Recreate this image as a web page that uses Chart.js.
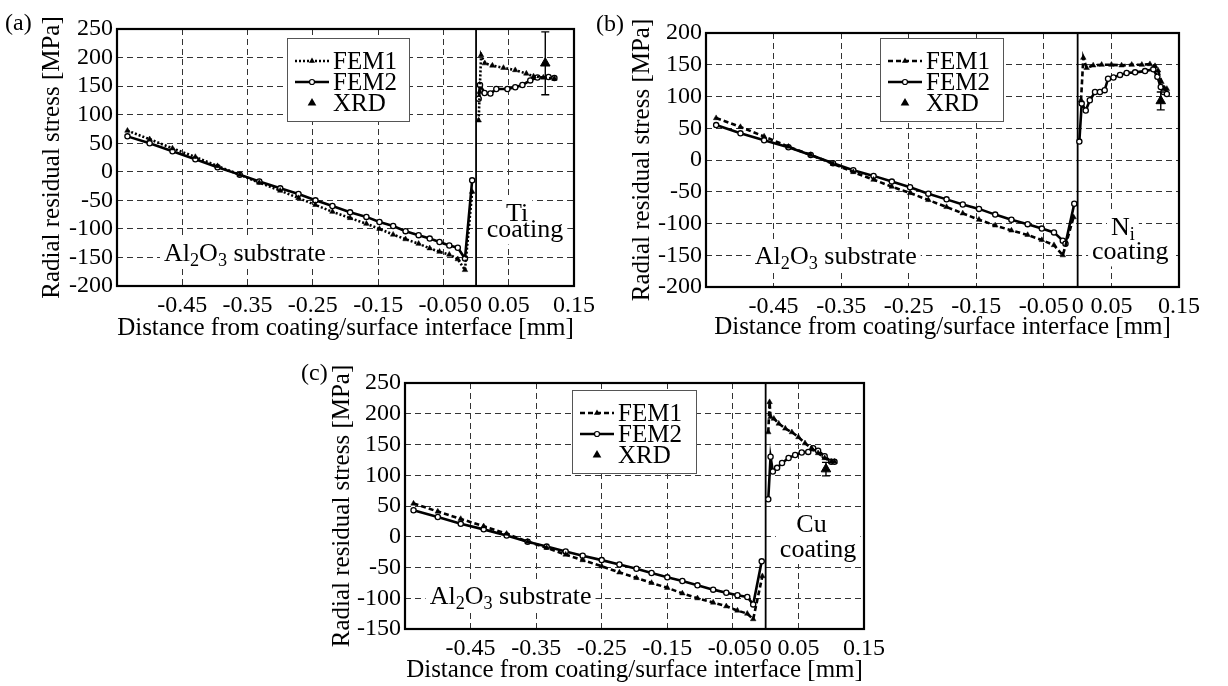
<!DOCTYPE html>
<html>
<head>
<meta charset="utf-8">
<script src="https://cdn.jsdelivr.net/npm/chart.js@4.4.1/dist/chart.umd.min.js"></script>
<style>
  body { margin: 0; background: #fff; width: 1228px; height: 686px; position: relative; overflow: hidden; }
  canvas { position: absolute; }
  .tag { position: absolute; font: 24px/1 "Liberation Serif", serif; color: #000; }
</style>
</head>
<body>
<canvas id="chartA" width="600" height="343" style="left:0;top:0"></canvas>
<canvas id="chartB" width="638" height="342" style="left:590px;top:0"></canvas>
<canvas id="chartC" width="600" height="325" style="left:290px;top:360px"></canvas>
<div class="tag" style="left:5px;top:10px">(a)</div>
<div class="tag" style="left:596px;top:11px">(b)</div>
<div class="tag" style="left:301px;top:360px">(c)</div>
<script>
const FONT = '"Liberation Serif", "Times New Roman", serif';

// shared x ticks (mm)
const xTicks = [-0.45, -0.35, -0.25, -0.15, -0.05, 0, 0.05, 0.15];

// (a) Ti coating: [x mm, stress MPa]
const aFem1Sub = [[-0.534,72],[-0.500,57],[-0.465,41],[-0.430,26],[-0.396,10],[-0.362,-5],[-0.332,-19],[-0.300,-33],[-0.272,-46],[-0.246,-58],[-0.220,-70],[-0.193,-81],[-0.168,-91],[-0.148,-100],[-0.127,-110],[-0.108,-118],[-0.088,-126],[-0.071,-134],[-0.056,-140],[-0.041,-145],[-0.028,-153],[-0.017,-172],[-0.006,-35]];
const aFem2Sub = [[-0.534,62],[-0.500,50],[-0.465,36],[-0.430,22],[-0.396,8],[-0.362,-5],[-0.332,-17],[-0.300,-29],[-0.272,-39],[-0.246,-50],[-0.220,-60],[-0.193,-71],[-0.168,-79],[-0.148,-88],[-0.127,-95],[-0.108,-104],[-0.088,-111],[-0.071,-117],[-0.056,-123],[-0.041,-129],[-0.028,-133],[-0.017,-152],[-0.006,-15]];
const aFem1Coat = [[0.004,90],[0.0055,140],[0.0077,204],[0.0134,190],[0.025,186],[0.042,182],[0.060,178],[0.077,172],[0.088,167],[0.103,165],[0.120,163]];
const aFem2Coat = [[0.004,128],[0.006,152],[0.013,138],[0.022,137],[0.031,145],[0.048,145],[0.060,148],[0.071,152],[0.083,160],[0.094,165],[0.111,166],[0.120,164]];
const aXrd = [[0.106,190,55]]; // x, value, error

// (b) Ni coating
const bFem1Sub = [[-0.535,66],[-0.499,52],[-0.464,37],[-0.428,21],[-0.395,8],[-0.362,-6],[-0.332,-19],[-0.302,-31],[-0.275,-42],[-0.248,-52],[-0.221,-63],[-0.194,-74],[-0.170,-84],[-0.146,-94],[-0.122,-103],[-0.098,-111],[-0.074,-118],[-0.053,-126],[-0.035,-134],[-0.022,-150],[-0.006,-90]];
const bFem2Sub = [[-0.535,55],[-0.499,42],[-0.464,31],[-0.428,20],[-0.395,8],[-0.362,-5],[-0.332,-16],[-0.302,-25],[-0.275,-34],[-0.248,-43],[-0.221,-53],[-0.194,-62],[-0.170,-70],[-0.146,-77],[-0.122,-86],[-0.098,-94],[-0.074,-101],[-0.053,-108],[-0.035,-114],[-0.022,-127],[-0.018,-132],[-0.005,-69]];
const bFem1Coat = [[0.005,94],[0.0084,161],[0.0133,145],[0.023,149],[0.0355,150],[0.050,150],[0.065,149],[0.080,150],[0.095,150],[0.107,151],[0.1145,148],[0.119,141],[0.124,123],[0.129,112],[0.132,112]];
const bFem2Coat = [[0.0025,29],[0.006,89],[0.012,78],[0.018,94],[0.0257,107],[0.033,107],[0.040,110],[0.045,128],[0.053,130],[0.0627,134],[0.0725,137],[0.085,138],[0.0997,140],[0.112,143],[0.118,131],[0.123,115],[0.127,107],[0.132,104]];
const bXrd = [[0.123,93,14]];

// (c) Cu coating
const cFem1Sub = [[-0.537,54],[-0.500,41],[-0.465,29],[-0.430,17],[-0.395,5],[-0.363,-8],[-0.334,-18],[-0.305,-29],[-0.279,-38],[-0.250,-48],[-0.223,-58],[-0.197,-67],[-0.174,-75],[-0.150,-83],[-0.127,-92],[-0.104,-100],[-0.080,-107],[-0.060,-113],[-0.043,-120],[-0.028,-125],[-0.019,-134],[-0.005,-64]];
const cFem2Sub = [[-0.537,43],[-0.500,32],[-0.465,21],[-0.430,12],[-0.395,2],[-0.363,-8],[-0.334,-16],[-0.305,-24],[-0.279,-31],[-0.250,-38],[-0.223,-45],[-0.197,-52],[-0.174,-59],[-0.150,-66],[-0.127,-72],[-0.104,-79],[-0.080,-86],[-0.060,-91],[-0.043,-95],[-0.028,-98],[-0.019,-110],[-0.006,-40]];
const cFem1Coat = [[0.004,170],[0.006,219],[0.0075,195],[0.0125,192],[0.020,184],[0.030,176],[0.040,170],[0.050,162],[0.060,152],[0.070,144],[0.080,136],[0.090,128],[0.100,122],[0.105,122]];
const cFem2Coat = [[0.004,61],[0.0075,130],[0.011,106],[0.0175,112],[0.025,120],[0.035,128],[0.045,133],[0.055,137],[0.065,138],[0.0725,144],[0.080,140],[0.090,131],[0.100,122],[0.105,122]];
const cXrd = [[0.092,110,11]];

const xTitle = 'Distance from coating/surface interface [mm]';
const yTitle = 'Radial residual stress [MPa]';

const TICK_SIZE = 24, TITLE_SIZE = 25, NOTE_SIZE = 26, LEGEND_SIZE = 25;

const panels = [
  { id: 'chartA', yMin: -200, yMax: 250, fem1: [aFem1Sub, aFem1Coat], fem2: [aFem2Sub, aFem2Coat], xrd: aXrd,
    dash: [2, 2], pad: { top: 29, right: 16 }, yWidth: 117, xHeight: 57, legend: [287, 38, 122, 83],
    notes: [
      [{ t: 'Al' }, { t: '2', sub: true }, { t: 'O' }, { t: '3', sub: true }, { t: ' substrate' }, -0.354, -141],
      [{ t: 'Ti' }, 0.063, -71],
      [{ t: 'coating' }, 0.075, -100]
    ] },
  { id: 'chartB', yMin: -200, yMax: 200, fem1: [bFem1Sub, bFem1Coat], fem2: [bFem2Sub, bFem2Coat], xrd: bXrd,
    dash: [5, 3], pad: { top: 33, right: 49 }, yWidth: 116, xHeight: 55, legend: [290, 38, 123, 83],
    notes: [
      [{ t: 'Al' }, { t: '2', sub: true }, { t: 'O' }, { t: '3', sub: true }, { t: ' substrate' }, -0.358, -150],
      [{ t: 'N' }, { t: 'i', sub: true }, 0.067, -104],
      [{ t: 'coating' }, 0.078, -143]
    ] },
  { id: 'chartC', yMin: -150, yMax: 250, fem1: [cFem1Sub, cFem1Coat], fem2: [cFem2Sub, cFem2Coat], xrd: cXrd,
    dash: [5, 3], pad: { top: 23, right: 24 }, yWidth: 115, xHeight: 56, legend: [282, 30, 124, 83],
    notes: [
      [{ t: 'Al' }, { t: '2', sub: true }, { t: 'O' }, { t: '3', sub: true }, { t: ' substrate' }, -0.389, -95],
      [{ t: 'Cu' }, 0.070, 22],
      [{ t: 'coating' }, 0.080, -19]
    ] }
];

const toXY = arr => arr.map(([x, y]) => ({ x, y }));

function measureRuns(ctx, runs, size) {
  let w = 0;
  runs.forEach(r => {
    ctx.font = (r.sub ? size * 0.7 : size) + 'px ' + FONT;
    r.w = ctx.measureText(r.t).width;
    w += r.w;
  });
  return w;
}

function drawRuns(ctx, runs, cx, cy, size) {
  const w = measureRuns(ctx, runs, size);
  let x = cx - w / 2;
  const base = cy + size * 0.33;
  ctx.fillStyle = '#000';
  ctx.textAlign = 'left';
  ctx.textBaseline = 'alphabetic';
  runs.forEach(r => {
    ctx.font = (r.sub ? size * 0.7 : size) + 'px ' + FONT;
    ctx.fillText(r.t, x, r.sub ? base + size * 0.2 : base);
    x += r.w;
  });
}

function triangle(ctx, x, y, r) {
  ctx.beginPath();
  ctx.moveTo(x, y - r);
  ctx.lineTo(x + r * 0.866, y + r * 0.5);
  ctx.lineTo(x - r * 0.866, y + r * 0.5);
  ctx.closePath();
  ctx.fill();
}

function drawLegend(ctx, box, dash) {
  const [bx, by, bw, bh] = box;
  ctx.save();
  ctx.fillStyle = '#fff';
  ctx.fillRect(bx, by, bw, bh);
  ctx.strokeStyle = '#555';
  ctx.lineWidth = 1;
  ctx.strokeRect(bx + 0.5, by + 0.5, bw, bh);
  const rows = [by + 23, by + 44, by + 65];
  const l0 = bx + 8, l1 = bx + 42, mid = (l0 + l1) / 2;
  ctx.strokeStyle = '#000';
  ctx.fillStyle = '#000';
  ctx.lineWidth = 2.5;
  // FEM1
  ctx.setLineDash(dash);
  ctx.beginPath(); ctx.moveTo(l0, rows[0]); ctx.lineTo(l1, rows[0]); ctx.stroke();
  ctx.setLineDash([]);
  triangle(ctx, mid, rows[0], 3.5);
  // FEM2
  ctx.beginPath(); ctx.moveTo(l0, rows[1]); ctx.lineTo(l1, rows[1]); ctx.stroke();
  ctx.beginPath(); ctx.arc(mid, rows[1], 2.5, 0, Math.PI * 2);
  ctx.fillStyle = '#fff'; ctx.fill(); ctx.lineWidth = 1.2; ctx.stroke();
  // XRD
  ctx.fillStyle = '#000';
  triangle(ctx, mid, rows[2], 5);
  ctx.font = LEGEND_SIZE + 'px ' + FONT;
  ctx.textBaseline = 'middle';
  ctx.textAlign = 'left';
  ['FEM1', 'FEM2', 'XRD'].forEach((t, i) => ctx.fillText(t, bx + 46, rows[i] + 1));
  ctx.restore();
}

function makeDecor(p) {
  return {
    id: 'decor',
    beforeDatasetsDraw(chart) {
      const { ctx, chartArea: a, scales: { x, y } } = chart;
      ctx.save();
      // white boxes behind the labels
      p.notes.forEach(n => {
        const runs = n.slice(0, -2).map(r => ({ ...r }));
        const w = measureRuns(ctx, runs, NOTE_SIZE);
        const cx = x.getPixelForValue(n[n.length - 2]);
        const cy = y.getPixelForValue(n[n.length - 1]);
        ctx.fillStyle = '#fff';
        ctx.fillRect(cx - w / 2 - 4, cy - NOTE_SIZE * 0.6, w + 8, NOTE_SIZE * 1.2);
      });
      p.notes.forEach(n => {
        const runs = n.slice(0, -2).map(r => ({ ...r }));
        drawRuns(ctx, runs, x.getPixelForValue(n[n.length - 2]), y.getPixelForValue(n[n.length - 1]), NOTE_SIZE);
      });
      // coating/substrate interface
      const x0 = x.getPixelForValue(0);
      ctx.strokeStyle = '#000';
      ctx.lineWidth = 1.8;
      ctx.beginPath(); ctx.moveTo(x0, a.top); ctx.lineTo(x0, a.bottom); ctx.stroke();
      ctx.restore();
    },
    afterDatasetsDraw(chart) {
      const { ctx, scales: { x, y } } = chart;
      ctx.save();
      // XRD error bars
      ctx.strokeStyle = '#000';
      ctx.lineWidth = 1.4;
      p.xrd.forEach(([vx, vy, e]) => {
        const px = x.getPixelForValue(vx);
        const top = y.getPixelForValue(vy + e), bot = y.getPixelForValue(vy - e);
        ctx.beginPath();
        ctx.moveTo(px, top); ctx.lineTo(px, bot);
        ctx.moveTo(px - 4, top); ctx.lineTo(px + 4, top);
        ctx.moveTo(px - 4, bot); ctx.lineTo(px + 4, bot);
        ctx.stroke();
      });
      ctx.restore();
      drawLegend(ctx, p.legend, p.dash);
    },
    afterDraw(chart) {
      const { ctx, chartArea: a } = chart;
      ctx.save();
      ctx.strokeStyle = '#000';
      ctx.lineWidth = 2.2;
      ctx.strokeRect(a.left, a.top, a.right - a.left, a.bottom - a.top);
      ctx.restore();
    }
  };
}

function femSet(points, dash, style) {
  return {
    data: toXY(points),
    borderColor: '#000',
    borderWidth: 2.6,
    borderDash: dash,
    pointStyle: style,
    pointRadius: style === 'triangle' ? 3.2 : 2.6,
    pointBorderWidth: style === 'triangle' ? 0.5 : 1.3,
    pointBorderColor: '#000',
    pointBackgroundColor: style === 'triangle' ? '#000' : '#fff',
    tension: 0,
    fill: false
  };
}

panels.forEach(p => {
  const datasets = [];
  p.fem1.forEach(seg => datasets.push(femSet(seg, p.dash, 'triangle')));
  p.fem2.forEach(seg => datasets.push(femSet(seg, [], 'circle')));
  datasets.push({
    type: 'scatter',
    data: p.xrd.map(([x, y]) => ({ x, y })),
    pointStyle: 'triangle',
    pointRadius: 5.5,
    pointBackgroundColor: '#000',
    pointBorderColor: '#000',
    showLine: false
  });

  new Chart(document.getElementById(p.id), {
    type: 'line',
    data: { datasets },
    options: {
      responsive: false,
      animation: false,
      devicePixelRatio: 1,
      layout: { padding: { top: p.pad.top, right: p.pad.right, left: 0, bottom: 0 } },
      plugins: { legend: { display: false }, tooltip: { enabled: false } },
      scales: {
        x: {
          type: 'linear',
          min: -0.55,
          max: 0.15,
          afterBuildTicks: axis => { axis.ticks = xTicks.map(v => ({ value: v })); },
          afterFit: axis => { axis.height = p.xHeight; },
          ticks: {
            autoSkip: false, maxRotation: 0, padding: 5, color: '#000',
            font: { family: FONT, size: TICK_SIZE },
            callback: v => String(v)
          },
          grid: {
            color: c => (c.tick && c.tick.value === 0) ? 'rgba(0,0,0,0)' : '#333',
            lineWidth: 1,
            drawTicks: false
          },
          border: { display: false, dash: [6, 4] },
          title: { display: true, text: xTitle, color: '#000', font: { family: FONT, size: TITLE_SIZE }, padding: 0 }
        },
        y: {
          min: p.yMin,
          max: p.yMax,
          afterFit: axis => { axis.width = p.yWidth; },
          ticks: {
            stepSize: 50, autoSkip: false, padding: 4, color: '#000',
            font: { family: FONT, size: TICK_SIZE },
            callback: v => String(v)
          },
          grid: { color: '#333', lineWidth: 1, drawTicks: false },
          border: { display: false, dash: [6, 4] },
          title: { display: true, text: yTitle, color: '#000', font: { family: FONT, size: TITLE_SIZE }, padding: { top: 37, bottom: 0 } }
        }
      }
    },
    plugins: [makeDecor(p)]
  });
});
</script>
</body>
</html>
